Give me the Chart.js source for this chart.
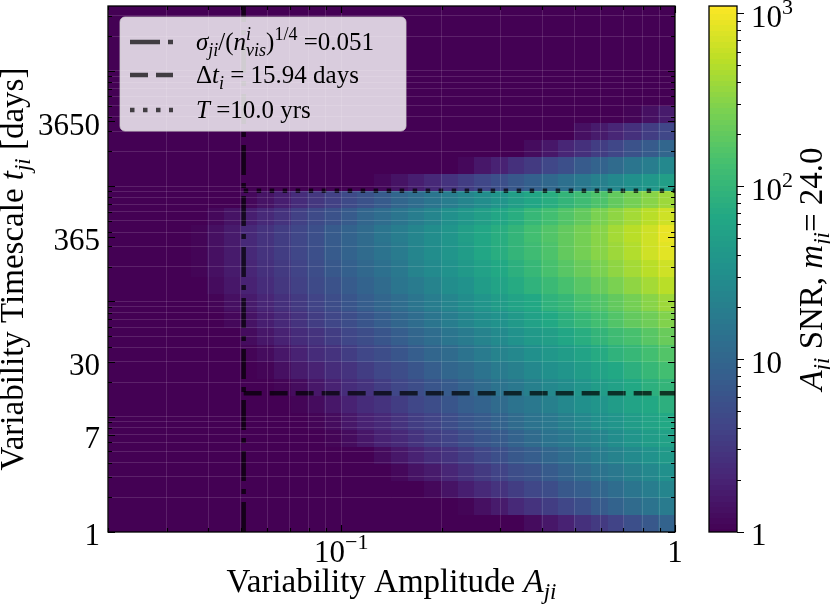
<!DOCTYPE html>
<html>
<head>
<meta charset="utf-8">
<title>A_ji SNR map</title>
<style>
  body { margin: 0; background: #fff; }
  #snrChart { display: block; }
</style>
</head>
<body>
<canvas id="snrChart" width="830" height="607"></canvas>

<script src="https://cdn.jsdelivr.net/npm/chart.js@4.4.0/dist/chart.umd.min.js"></script>
<script>
// axis ranges
const ampRange = [0.02, 1];
const timeRange = [1, 36525];
const snrRange = [1, 1100];

// labelled ticks
const xTickLabels = [0.1, 1];
const yTickLabels = [1, 7, 30, 365, 3650];
const cbTickLabels = [1, 10, 100, 1000];

// reference lines / legend numbers
const sigmaLimit = 0.051;
const cadenceDays = 15.94;
const baselineYears = 10.0;
const baselineLineDays = 913;
const magnitude = 24.0;

// heatmap bins (log10 of amplitude and of timescale in days)
const logAmpEdges = [-1.70,-1.65,-1.60,-1.55,-1.50,-1.45,-1.40,-1.35,-1.30,-1.25,-1.20,-1.15,
  -1.10,-1.05,-1.00,-0.95,-0.90,-0.85,-0.80,-0.75,-0.70,-0.65,-0.60,-0.55,-0.50,-0.45,-0.40,
  -0.35,-0.30,-0.25,-0.20,-0.15,-0.10,-0.05,0.00];
const logTimeEdges = [0,0.148,0.296,0.444,0.592,0.740,0.888,1.036,1.184,1.332,1.480,1.628,
  1.776,1.924,2.072,2.220,2.368,2.516,2.664,2.812,2.960,3.108,3.256,3.404,3.552,3.700,3.848,
  3.996,4.144,4.292,4.440,4.588];

// log10(SNR) per row, bottom row first. each row is read leftwards from A = 1,
// cells further left sit at the colour floor (SNR <= 1)
const logSNRRows = [
  [0.09,0.19,0.30,0.41,0.52,0.62,0.73,0.84,0.95],
  [0.04,0.14,0.24,0.34,0.44,0.54,0.64,0.75,0.85,0.95,1.05,1.15,1.25],
  [0.07,0.17,0.26,0.35,0.45,0.54,0.63,0.72,0.82,0.91,1.00,1.10,1.19,1.28,1.37],
  [0.06,0.15,0.24,0.33,0.42,0.51,0.60,0.69,0.78,0.87,0.96,1.05,1.14,1.23,1.32,1.41,1.50],
  [0.01,0.10,0.19,0.28,0.37,0.46,0.55,0.64,0.73,0.82,0.91,1.00,1.09,1.18,1.27,1.36,1.45,1.54,1.63],
  [0.02,0.10,0.19,0.28,0.36,0.45,0.53,0.62,0.71,0.79,0.88,0.96,1.05,1.14,1.22,1.31,1.39,1.48,1.57,1.65,1.74],
  [0.02,0.10,0.19,0.28,0.36,0.45,0.54,0.62,0.71,0.80,0.88,0.97,1.06,1.14,1.23,1.32,1.40,1.49,1.58,1.66,1.75,1.84],
  [0.03,0.11,0.20,0.28,0.37,0.46,0.54,0.63,0.71,0.80,0.89,0.97,1.06,1.14,1.23,1.32,1.40,1.49,1.57,1.66,1.75,1.83,1.92],
  [0.03,0.11,0.20,0.28,0.37,0.45,0.54,0.63,0.71,0.80,0.88,0.97,1.05,1.14,1.23,1.31,1.40,1.48,1.57,1.65,1.74,1.83,1.91,2.00],
  [0.03,0.12,0.21,0.29,0.38,0.46,0.55,0.64,0.72,0.81,0.89,0.98,1.07,1.15,1.24,1.32,1.41,1.50,1.58,1.67,1.75,1.84,1.93,2.01,2.10],
  [0.03,0.11,0.20,0.29,0.38,0.46,0.55,0.64,0.72,0.81,0.90,0.99,1.07,1.16,1.25,1.33,1.42,1.51,1.60,1.68,1.77,1.86,1.95,2.03,2.12,2.21],
  [0.01,0.10,0.19,0.28,0.37,0.46,0.55,0.64,0.72,0.81,0.90,0.99,1.08,1.17,1.26,1.35,1.44,1.53,1.62,1.71,1.80,1.89,1.98,2.07,2.16,2.25,2.34],
  [0.07,0.17,0.26,0.35,0.44,0.54,0.63,0.72,0.81,0.91,1.00,1.09,1.18,1.27,1.37,1.46,1.55,1.64,1.74,1.83,1.92,2.01,2.11,2.20,2.29,2.38,2.47],
  [0.04,0.13,0.23,0.32,0.42,0.51,0.61,0.70,0.80,0.89,0.99,1.08,1.18,1.27,1.37,1.46,1.56,1.65,1.75,1.84,1.94,2.03,2.13,2.22,2.32,2.41,2.51,2.60],
  [0.10,0.19,0.29,0.39,0.49,0.58,0.68,0.78,0.87,0.97,1.07,1.17,1.26,1.36,1.46,1.55,1.65,1.75,1.85,1.94,2.04,2.14,2.24,2.33,2.43,2.53,2.62,2.72],
  [0.02,0.12,0.22,0.32,0.42,0.52,0.62,0.72,0.82,0.92,1.02,1.12,1.22,1.33,1.43,1.53,1.63,1.73,1.83,1.93,2.03,2.13,2.23,2.33,2.43,2.53,2.63,2.73,2.83],
  [0.03,0.13,0.24,0.34,0.44,0.54,0.65,0.75,0.85,0.96,1.06,1.16,1.26,1.37,1.47,1.57,1.68,1.78,1.88,1.98,2.09,2.19,2.29,2.39,2.50,2.60,2.70,2.81,2.91],
  [0.03,0.13,0.24,0.34,0.44,0.55,0.65,0.75,0.86,0.96,1.07,1.17,1.27,1.38,1.48,1.58,1.69,1.79,1.89,2.00,2.10,2.20,2.31,2.41,2.51,2.62,2.72,2.82,2.93],
  [0.05,0.15,0.26,0.36,0.46,0.57,0.67,0.77,0.87,0.98,1.08,1.18,1.29,1.39,1.49,1.59,1.70,1.80,1.90,2.01,2.11,2.21,2.31,2.42,2.52,2.62,2.73,2.83],
  [0.06,0.16,0.26,0.37,0.47,0.57,0.67,0.77,0.87,0.98,1.08,1.18,1.28,1.38,1.48,1.58,1.69,1.79,1.89,1.99,2.09,2.19,2.29,2.40,2.50,2.60],
  [0.08,0.17,0.27,0.36,0.46,0.56,0.65,0.75,0.84,0.94,1.03,1.13,1.22,1.32,1.42,1.51,1.61,1.70],
  [0.08,0.19,0.30,0.41,0.52,0.63,0.74,0.85,0.96,1.07,1.18,1.29,1.40],
  [0.09,0.20,0.32,0.43,0.54,0.65,0.77,0.88,0.99],
  [0.01,0.12,0.22,0.33,0.43,0.54,0.65],
  [0.02,0.13,0.24],
  [], [], [], [], [], []
];

const viridisStops = ['#440154','#482475','#414487','#355f8d','#2a788e','#21918c',
  '#22a884','#44bf70','#7ad151','#bddf26','#fde725'];

const FONT = '"Liberation Serif", "Times New Roman", serif';
const lineInk = 'rgba(0,0,0,0.7)';
const dashDot = [30, 8, 5, 8], dashed = [18, 8], dotted = [4.5, 8.5];

function hexRgb(h) {
  return [parseInt(h.slice(1, 3), 16), parseInt(h.slice(3, 5), 16), parseInt(h.slice(5, 7), 16)];
}
const viridisRgb = viridisStops.map(hexRgb);
// colour lookup, kept to 96 levels like a matplotlib colormap table
function viridis(f) {
  f = Math.round(Math.min(1, Math.max(0, f)) * 95) / 95 * (viridisRgb.length - 1);
  const i = Math.min(viridisRgb.length - 2, Math.floor(f)), t = f - i;
  const a = viridisRgb[i], b = viridisRgb[i + 1];
  return 'rgb(' + [0, 1, 2].map(k => Math.round(a[k] + (b[k] - a[k]) * t)).join(',') + ')';
}

// log tick positions (n * 10^k) inside a range
function logTicks(min, max) {
  const out = [];
  for (let k = Math.floor(Math.log10(min)); k <= Math.ceil(Math.log10(max)); k++) {
    for (let n = 1; n <= 9; n++) {
      const v = +(n * Math.pow(10, k)).toPrecision(6);
      if (v >= min * 0.9999 && v <= max * 1.0001) out.push({ v: v, major: n === 1 });
    }
  }
  return out;
}

// small rich text helper: parts = {t, i (italic), s (1 sup, -1 sub), st ([sup, sub] stacked)}
function fontOf(i, small, size) {
  return (i ? 'italic ' : '') + Math.round(small ? size * 0.7 : size) + 'px ' + FONT;
}
function partWidth(ctx, p, size) {
  if (p.st) {
    ctx.font = fontOf(p.i, true, size);
    return Math.max(ctx.measureText(p.st[0]).width, ctx.measureText(p.st[1]).width);
  }
  ctx.font = fontOf(p.i, !!p.s, size);
  return ctx.measureText(p.t).width;
}
function drawRich(ctx, parts, x, y, size, align) {
  let w = 0;
  for (const p of parts) w += partWidth(ctx, p, size);
  let cx = align === 'center' ? x - w / 2 : align === 'right' ? x - w : x;
  ctx.textAlign = 'left';
  ctx.textBaseline = 'alphabetic';
  for (const p of parts) {
    const pw = partWidth(ctx, p, size);
    if (p.st) {
      ctx.fillText(p.st[0], cx, y - 0.42 * size);
      ctx.fillText(p.st[1], cx, y + 0.25 * size);
    } else {
      const dy = p.s === 1 ? -0.42 * size : p.s === -1 ? 0.22 * size : 0;
      ctx.fillText(p.t, cx, y + dy);
    }
    cx += pw;
  }
}
const N = t => ({ t: t }), I = t => ({ t: t, i: true });
const SUB = t => ({ t: t, i: true, s: -1 }), SUP = t => ({ t: t, s: 1 });

function powLabel(v) {
  const k = Math.round(Math.log10(v));
  if (v === 1) return [N('1')];
  if (v === 10) return [N('10')];
  return [N('10'), SUP(k < 0 ? '\u2212' + (-k) : String(k))];
}

const heatmap = {
  id: 'heatmap',
  beforeDatasetsDraw(chart) {
    const { ctx, chartArea: a, scales: { x, y, cb } } = chart;
    ctx.save();
    ctx.beginPath();
    ctx.rect(a.left, a.top, a.right - a.left, a.bottom - a.top);
    ctx.clip();
    const nCols = logAmpEdges.length - 1;
    for (let r = 0; r < logTimeEdges.length - 1; r++) {
      const row = logSNRRows[r];
      const y0 = y.getPixelForValue(Math.pow(10, logTimeEdges[r]));
      const y1 = y.getPixelForValue(Math.pow(10, logTimeEdges[r + 1]));
      for (let c = 0; c < nCols; c++) {
        const idx = c - (nCols - row.length);
        const lv = idx >= 0 ? row[idx] : 0;
        const snr = Math.max(snrRange[0], Math.pow(10, lv));
        const f = (cb.bottom - cb.getPixelForValue(snr)) / (cb.bottom - cb.top);
        const x0 = x.getPixelForValue(Math.pow(10, logAmpEdges[c]));
        const x1 = x.getPixelForValue(Math.pow(10, logAmpEdges[c + 1]));
        ctx.fillStyle = viridis(f);
        ctx.fillRect(Math.floor(x0), Math.floor(y1), Math.ceil(x1) - Math.floor(x0), Math.ceil(y0) - Math.floor(y1));
      }
    }
    ctx.restore();
    ctx.beginPath();
  }
};

const decor = {
  id: 'decor',
  afterDraw(chart) {
    const { ctx, chartArea: a, scales: { x, y, cb } } = chart;
    ctx.save();
    ctx.setLineDash([]);
    ctx.strokeStyle = '#000';
    ctx.fillStyle = '#000';

    // spines
    ctx.lineWidth = 1.3;
    ctx.strokeRect(a.left, a.top, a.right - a.left, a.bottom - a.top);

    // inward ticks on all four sides
    ctx.lineWidth = 1.1;
    ctx.beginPath();
    for (const t of logTicks(ampRange[0], ampRange[1])) {
      const px = Math.round(x.getPixelForValue(t.v)) + 0.5;
      const len = (t.major || xTickLabels.includes(t.v)) ? 7 : 4;
      ctx.moveTo(px, a.bottom); ctx.lineTo(px, a.bottom - len);
      ctx.moveTo(px, a.top); ctx.lineTo(px, a.top + len);
    }
    for (const t of logTicks(timeRange[0], timeRange[1])) {
      const py = Math.round(y.getPixelForValue(t.v)) + 0.5;
      const len = (t.major || yTickLabels.includes(t.v)) ? 7 : 4;
      ctx.moveTo(a.left, py); ctx.lineTo(a.left + len, py);
      ctx.moveTo(a.right, py); ctx.lineTo(a.right - len, py);
    }
    for (const v of yTickLabels) {
      const py = Math.round(y.getPixelForValue(v)) + 0.5;
      ctx.moveTo(a.left, py); ctx.lineTo(a.left + 7, py);
      ctx.moveTo(a.right, py); ctx.lineTo(a.right - 7, py);
    }
    ctx.stroke();

    // tick labels
    const fs = 31, ts = 33;
    for (const v of xTickLabels) drawRich(ctx, powLabel(v), x.getPixelForValue(v), a.bottom + 30, fs, 'center');
    for (const v of yTickLabels) drawRich(ctx, [N(String(v))], a.left - 8, y.getPixelForValue(v) + 0.435 * fs, fs, 'right');

    // axis titles
    drawRich(ctx, [N('Variability Amplitude '), I('A'), SUB('ji')], (a.left + a.right) / 2, 592, ts, 'center');
    ctx.save();
    ctx.translate(23, (a.top + a.bottom) / 2);
    ctx.rotate(-Math.PI / 2);
    drawRich(ctx, [N('Variability Timescale '), I('t'), SUB('ji'), N(' [days]')], 0, 0, ts, 'center');
    ctx.restore();

    // colorbar
    const bx0 = 709, bx1 = 737;
    for (let py = Math.floor(cb.top); py < cb.bottom; py++) {
      ctx.fillStyle = viridis((cb.bottom - py - 0.5) / (cb.bottom - cb.top));
      ctx.fillRect(bx0, py, bx1 - bx0, 1);
    }
    ctx.fillStyle = '#000';
    ctx.lineWidth = 1.3;
    ctx.strokeRect(bx0, cb.top, bx1 - bx0, cb.bottom - cb.top);
    ctx.lineWidth = 1.1;
    ctx.beginPath();
    for (const t of logTicks(snrRange[0], snrRange[1])) {
      const py = Math.round(cb.getPixelForValue(t.v)) + 0.5;
      ctx.moveTo(bx1, py); ctx.lineTo(bx1 + (t.major ? 7 : 4), py);
    }
    ctx.stroke();
    for (const v of cbTickLabels) drawRich(ctx, powLabel(v), 751, cb.getPixelForValue(v) + 0.435 * fs, fs, 'left');
    ctx.save();
    ctx.translate(822, (cb.top + cb.bottom) / 2);
    ctx.rotate(-Math.PI / 2);
    drawRich(ctx, [I('A'), SUB('ji'), N(' SNR, '), I('m'), SUB('ji'), N('= ' + magnitude.toFixed(1))], 0, 0, ts, 'center');
    ctx.restore();

    // legend
    const lx = 120, ly = 17, lw = 286, lh = 114;
    ctx.beginPath();
    ctx.roundRect(lx, ly, lw, lh, 5);
    ctx.fillStyle = 'rgba(255,255,255,0.8)';
    ctx.fill();
    ctx.strokeStyle = 'rgba(204,204,204,0.8)';
    ctx.lineWidth = 1;
    ctx.stroke();
    const entries = [
      { dash: dashDot, y: 42, text: [I('\u03c3'), SUB('ji'), N('/('), I('n'), { st: ['i', 'vis'], i: true }, N(')'), SUP('1/4'), N(' =' + sigmaLimit)] },
      { dash: dashed, y: 75, text: [N('\u0394'), I('t'), SUB('i'), N(' = ' + cadenceDays + ' days')] },
      { dash: dotted, y: 110, text: [I('T'), N(' =' + baselineYears.toFixed(1) + ' yrs')] }
    ];
    for (const e of entries) {
      ctx.strokeStyle = lineInk;
      ctx.lineWidth = 4.5;
      ctx.lineCap = 'butt';
      ctx.setLineDash(e.dash);
      ctx.beginPath();
      ctx.moveTo(130, e.y); ctx.lineTo(173, e.y);
      ctx.stroke();
      ctx.setLineDash([]);
      ctx.fillStyle = '#000';
      drawRich(ctx, e.text, 196, e.y + 8, 25, 'left');
    }
    ctx.restore();
  }
};

const refLine = {
  showLine: true, pointRadius: 0, borderColor: lineInk, borderWidth: 4.5,
  borderCapStyle: 'butt', fill: false
};

new Chart(document.getElementById('snrChart'), {
  type: 'scatter',
  data: {
    datasets: [
      Object.assign({ label: 'sigma', borderDash: dashDot,
        data: [{ x: sigmaLimit, y: timeRange[0] }, { x: sigmaLimit, y: timeRange[1] }] }, refLine),
      Object.assign({ label: 'cadence', borderDash: dashed,
        data: [{ x: sigmaLimit, y: cadenceDays }, { x: ampRange[1], y: cadenceDays }] }, refLine),
      Object.assign({ label: 'baseline', borderDash: dotted,
        data: [{ x: sigmaLimit, y: baselineLineDays }, { x: ampRange[1], y: baselineLineDays }] }, refLine)
    ]
  },
  options: {
    responsive: false,
    animation: false,
    devicePixelRatio: 1,
    events: [],
    layout: { padding: { top: 6, left: 0, right: 0, bottom: 0 } },
    plugins: { legend: { display: false }, tooltip: { enabled: false } },
    scales: {
      x: {
        type: 'logarithmic', min: ampRange[0], max: ampRange[1],
        ticks: { display: false },
        grid: { color: 'rgba(255,255,255,0.13)', lineWidth: 1, drawTicks: false, z: 1 },
        border: { display: false },
        afterBuildTicks: s => { s.ticks = logTicks(ampRange[0], ampRange[1]).map(t => ({ value: t.v })); },
        afterFit: s => { s.height = 75; }
      },
      y: {
        type: 'logarithmic', min: timeRange[0], max: timeRange[1],
        ticks: { display: false },
        grid: { color: 'rgba(255,255,255,0.13)', lineWidth: 1, drawTicks: false, z: 1 },
        border: { display: false },
        afterBuildTicks: s => { s.ticks = logTicks(timeRange[0], timeRange[1]).map(t => ({ value: t.v })); },
        afterFit: s => { s.width = 108; }
      },
      cb: {
        type: 'logarithmic', position: 'right', min: snrRange[0], max: snrRange[1],
        ticks: { display: false },
        grid: { display: false },
        border: { display: false },
        afterFit: s => { s.width = 155; }
      }
    }
  },
  plugins: [heatmap, decor]
});
</script>
</body>
</html>
